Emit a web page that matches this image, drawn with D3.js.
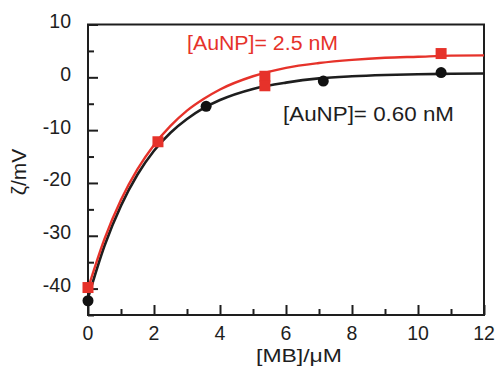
<!DOCTYPE html>
<html>
<head>
<meta charset="utf-8">
<script src="https://cdn.jsdelivr.net/npm/d3@7"></script>
<style>
  body { margin: 0; background: #fff; }
  text { font-family: "Liberation Sans", Arial, Helvetica, sans-serif; }
</style>
</head>
<body>
<svg id="chart" width="496" height="367"></svg>
<script>
// measured points
const blackX = [0, 3.58, 7.13, 10.7];
const blackY = [-42.3, -5.5, -0.7, 0.9];
const redX = [0, 2.12, 5.36, 5.36, 10.7];
const redY = [-39.8, -12.2, 0.2, -1.6, 4.5];

// fitted curves
const curveX = [0, 0.5, 1, 1.5, 2, 2.5, 3, 3.5, 4, 5, 6, 7, 8, 9, 10, 11, 12];
const redCurveY = [-40, -30.6, -23.2, -17.4, -12.8, -9.2, -6.3, -4.1, -2.3, 0.2, 1.8, 2.7, 3.3, 3.7, 3.9, 4.1, 4.15];
const blackCurveY = [-41.8, -31.9, -24.3, -18.4, -13.9, -10.5, -7.9, -5.85, -4.3, -2.2, -1.0, -0.2, 0.2, 0.44, 0.59, 0.67, 0.73];

const xTicks = [0, 2, 4, 6, 8, 10, 12];
const yTicks = [-40, -30, -20, -10, 0, 10];

const red = "#e6322a";
const ink = "#1e1e1e";

const svg = d3.select("#chart");

const x = d3.scaleLinear().domain([0, 12]).range([88, 484]);
const y = d3.scaleLinear().domain([-45, 10]).range([315, 24.5]);

// frame
svg.append("rect")
  .attr("x", x(0)).attr("y", y(10))
  .attr("width", x(12) - x(0)).attr("height", y(-45) - y(10))
  .attr("fill", "none").attr("stroke", ink).attr("stroke-width", 2);

// ticks pointing inward
const xAxis = svg.append("g")
  .attr("transform", `translate(0,${y(-45)})`)
  .call(d3.axisTop(x).tickValues(d3.range(0, 13, 1)).tickSize(6).tickFormat(""));
xAxis.selectAll(".tick line").filter((d) => d % 2 === 0).attr("y2", -10);

const yAxis = svg.append("g")
  .attr("transform", `translate(${x(0)},0)`)
  .call(d3.axisRight(y).tickValues(d3.range(-45, 11, 5)).tickSize(6).tickFormat(""));
yAxis.selectAll(".tick line").filter((d) => d % 10 === 0).attr("x2", 10);

[xAxis, yAxis].forEach((g) => {
  g.select(".domain").remove();
  g.selectAll(".tick line").attr("stroke", ink).attr("stroke-width", 2);
});

// tick labels
svg.append("g").selectAll("text")
  .data(xTicks).join("text")
  .attr("x", (d) => x(d)).attr("y", 339.5)
  .attr("text-anchor", "middle")
  .attr("font-size", 19.5).attr("fill", ink)
  .text((d) => d);

svg.append("g").selectAll("text")
  .data(yTicks).join("text")
  .attr("x", 71).attr("y", (d) => y(d) + 3.5)
  .attr("text-anchor", "end")
  .attr("font-size", 19.5).attr("fill", ink)
  .text((d) => d);

// axis titles
svg.append("text")
  .attr("x", 256).attr("y", 362)
  .attr("font-size", 19).attr("fill", ink)
  .attr("textLength", 86).attr("lengthAdjust", "spacingAndGlyphs")
  .text("[MB]/μM");

svg.append("text")
  .attr("transform", `translate(26,172) rotate(-90)`)
  .attr("text-anchor", "middle")
  .attr("font-size", 21).attr("fill", ink)
  .text("ζ/mV");

// curves
const line = (ys) => d3.line()
  .x((d, i) => x(curveX[i]))
  .y((d) => y(d))
  .curve(d3.curveMonotoneX)(ys);

svg.append("path").attr("d", line(blackCurveY))
  .attr("fill", "none").attr("stroke", ink).attr("stroke-width", 2.6);
svg.append("path").attr("d", line(redCurveY))
  .attr("fill", "none").attr("stroke", red).attr("stroke-width", 2.4);

// markers
svg.append("g").selectAll("circle")
  .data(blackX).join("circle")
  .attr("cx", (d) => x(d)).attr("cy", (d, i) => y(blackY[i]))
  .attr("r", 5.5).attr("fill", "#111");

svg.append("g").selectAll("rect")
  .data(redX).join("rect")
  .attr("x", (d) => x(d) - 5.5).attr("y", (d, i) => y(redY[i]) - 5.5)
  .attr("width", 11).attr("height", 11).attr("fill", red);

// labels
svg.append("text")
  .attr("x", 187).attr("y", 50)
  .attr("font-size", 19.5).attr("fill", red)
  .attr("textLength", 151).attr("lengthAdjust", "spacingAndGlyphs")
  .text("[AuNP]= 2.5 nM");

svg.append("text")
  .attr("x", 283).attr("y", 121)
  .attr("font-size", 19.5).attr("fill", ink)
  .attr("textLength", 171).attr("lengthAdjust", "spacingAndGlyphs")
  .text("[AuNP]= 0.60 nM");
</script>
</body>
</html>
